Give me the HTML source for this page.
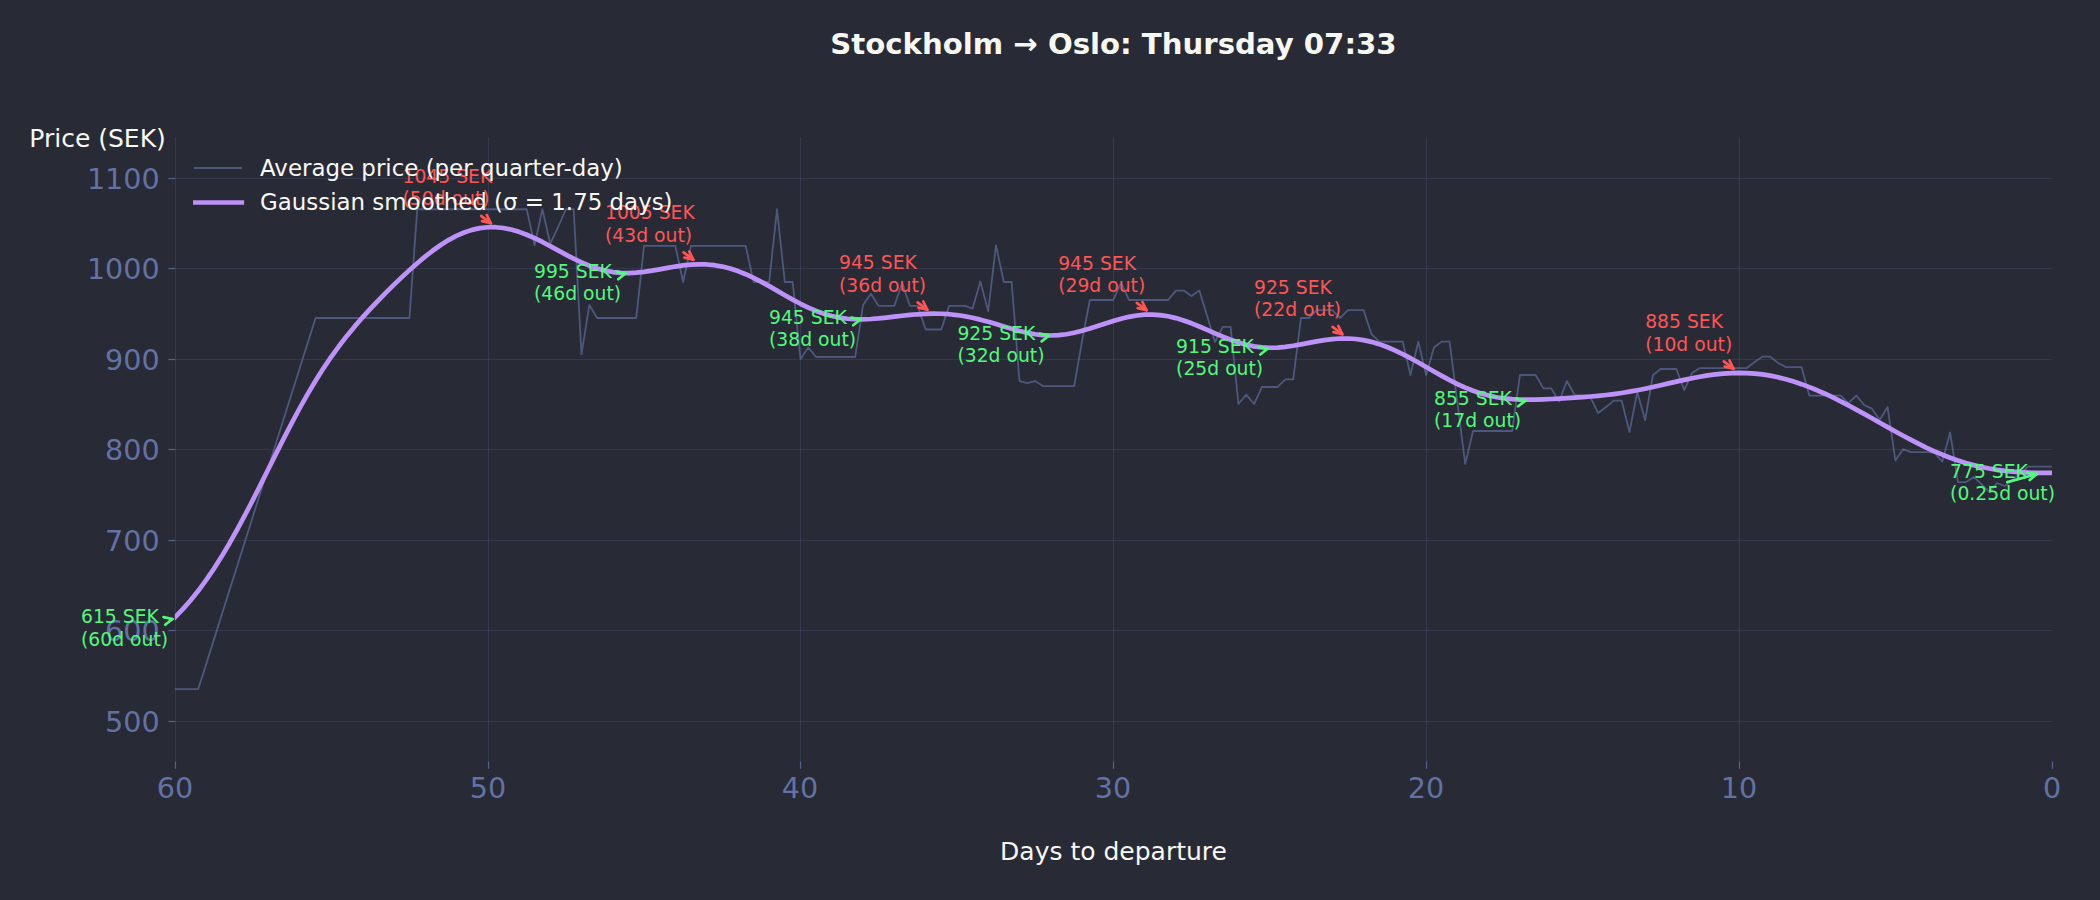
<!DOCTYPE html>
<html lang="en"><head><meta charset="utf-8"><title>Stockholm → Oslo: Thursday 07:33</title>
<style>html,body{margin:0;padding:0;background:#282a36;}body{width:2100px;height:900px;overflow:hidden;}svg{display:block;}</style>
</head><body>
<svg width="2100" height="900" viewBox="0 0 2100 900" font-family='"DejaVu Sans", "Liberation Sans", sans-serif'>
<rect width="2100" height="900" fill="#282a36"/>
<defs><clipPath id="ax"><rect x="174.8" y="137.0" width="1877.2" height="624.5"/></clipPath></defs>
<g stroke="#6272a4" stroke-width="1" stroke-opacity="0.21" fill="none">
<line x1="175.5" y1="137.0" x2="175.5" y2="761.5"/>
<line x1="488.5" y1="137.0" x2="488.5" y2="761.5"/>
<line x1="800.5" y1="137.0" x2="800.5" y2="761.5"/>
<line x1="1113.5" y1="137.0" x2="1113.5" y2="761.5"/>
<line x1="1426.5" y1="137.0" x2="1426.5" y2="761.5"/>
<line x1="1739.5" y1="137.0" x2="1739.5" y2="761.5"/>
<line x1="175" y1="178.5" x2="2052" y2="178.5"/>
<line x1="175" y1="268.5" x2="2052" y2="268.5"/>
<line x1="175" y1="359.5" x2="2052" y2="359.5"/>
<line x1="175" y1="449.5" x2="2052" y2="449.5"/>
<line x1="175" y1="540.5" x2="2052" y2="540.5"/>
<line x1="175" y1="630.5" x2="2052" y2="630.5"/>
<line x1="175" y1="721.5" x2="2052" y2="721.5"/>
</g>
<g stroke="#6272a4" stroke-width="1.2" stroke-opacity="0.8" fill="none">
<line x1="175.5" y1="761.5" x2="175.5" y2="768.8"/>
<line x1="488.5" y1="761.5" x2="488.5" y2="768.8"/>
<line x1="800.5" y1="761.5" x2="800.5" y2="768.8"/>
<line x1="1113.5" y1="761.5" x2="1113.5" y2="768.8"/>
<line x1="1426.5" y1="761.5" x2="1426.5" y2="768.8"/>
<line x1="1739.5" y1="761.5" x2="1739.5" y2="768.8"/>
<line x1="2052.5" y1="761.5" x2="2052.5" y2="768.8"/>
<line x1="168.4" y1="178.5" x2="175" y2="178.5"/>
<line x1="168.4" y1="268.5" x2="175" y2="268.5"/>
<line x1="168.4" y1="359.5" x2="175" y2="359.5"/>
<line x1="168.4" y1="449.5" x2="175" y2="449.5"/>
<line x1="168.4" y1="540.5" x2="175" y2="540.5"/>
<line x1="168.4" y1="630.5" x2="175" y2="630.5"/>
<line x1="168.4" y1="721.5" x2="175" y2="721.5"/>
</g>
<g fill="#6272a4" font-size="28.6">
<text x="159.7" y="188.64" text-anchor="end">1100</text>
<text x="159.7" y="278.64" text-anchor="end">1000</text>
<text x="159.7" y="369.64" text-anchor="end">900</text>
<text x="159.7" y="459.64" text-anchor="end">800</text>
<text x="159.7" y="550.64" text-anchor="end">700</text>
<text x="159.7" y="640.64" text-anchor="end">600</text>
<text x="159.7" y="731.64" text-anchor="end">500</text>
<text x="175.00" y="798.4" text-anchor="middle">60</text>
<text x="488.00" y="798.4" text-anchor="middle">50</text>
<text x="800.00" y="798.4" text-anchor="middle">40</text>
<text x="1113.00" y="798.4" text-anchor="middle">30</text>
<text x="1426.00" y="798.4" text-anchor="middle">20</text>
<text x="1739.00" y="798.4" text-anchor="middle">10</text>
<text x="2052.00" y="798.4" text-anchor="middle">0</text>
</g>
<g clip-path="url(#ax)"><polyline points="174.80,689.10 182.62,689.10 190.44,689.10 198.26,689.10 206.08,664.36 213.90,639.62 221.73,614.88 229.55,590.14 237.37,565.40 245.19,540.66 253.01,515.92 260.83,491.18 268.65,466.44 276.47,441.70 284.29,416.96 292.11,392.22 299.93,367.48 307.75,342.74 315.58,318.00 323.40,318.00 331.22,318.00 339.04,318.00 346.86,318.00 354.68,318.00 362.50,318.00 370.32,318.00 378.14,318.00 385.96,318.00 393.78,318.00 401.60,318.00 409.43,318.00 417.25,209.25 425.07,209.25 432.89,209.25 440.71,209.25 448.53,209.25 456.35,209.25 464.17,209.25 471.99,209.25 479.81,209.25 487.63,209.25 495.45,209.25 503.28,209.25 511.10,209.25 518.92,209.25 526.74,209.25 534.56,245.35 542.38,209.25 550.20,243.54 558.02,227.25 565.84,209.25 573.66,209.25 581.48,354.36 589.30,305.06 597.12,318.00 604.95,318.00 612.77,318.00 620.59,318.00 628.41,318.00 636.23,318.00 644.05,245.80 651.87,245.80 659.69,245.80 667.51,245.80 675.33,245.80 683.15,281.99 690.98,245.80 698.80,245.80 706.62,245.80 714.44,245.80 722.26,245.80 730.08,245.80 737.90,245.80 745.72,245.80 753.54,281.99 761.36,281.99 769.18,281.99 777.00,209.25 784.83,281.99 792.65,281.99 800.47,358.98 808.29,347.58 816.11,356.99 823.93,356.99 831.75,356.99 839.57,356.99 847.39,356.99 855.21,356.99 863.03,305.06 870.85,293.66 878.68,305.96 886.50,305.96 894.32,305.96 902.14,282.98 909.96,305.96 917.78,305.96 925.60,329.48 933.42,329.48 941.24,329.48 949.06,305.96 956.88,305.96 964.70,305.96 972.53,308.68 980.35,281.54 988.17,311.03 995.99,245.35 1003.81,281.99 1011.63,281.99 1019.45,381.05 1027.27,383.04 1035.09,381.05 1042.91,386.03 1050.73,386.03 1058.55,386.03 1066.38,386.03 1074.20,386.03 1082.02,341.25 1089.84,299.99 1097.66,299.99 1105.48,299.99 1113.30,299.99 1121.12,282.98 1128.94,299.99 1136.76,299.99 1144.58,299.99 1152.40,299.99 1160.23,299.99 1168.05,299.99 1175.87,290.58 1183.69,290.58 1191.51,296.01 1199.33,290.58 1207.15,315.91 1214.97,341.97 1222.79,326.95 1230.61,326.95 1238.43,404.03 1246.25,394.62 1254.08,404.03 1261.90,387.02 1269.72,387.02 1277.54,387.02 1285.36,379.42 1293.18,379.42 1301.00,318.00 1308.82,318.00 1316.64,310.03 1324.46,310.03 1332.28,310.03 1340.10,318.00 1347.93,310.03 1355.75,310.03 1363.57,310.03 1371.39,334.01 1379.21,341.61 1387.03,341.61 1394.85,341.61 1402.67,341.61 1410.49,374.99 1418.31,341.61 1426.13,374.99 1433.95,347.58 1441.78,341.61 1449.60,341.61 1457.42,402.77 1465.24,464.01 1473.06,430.99 1480.88,430.99 1488.70,430.99 1496.52,430.99 1504.34,430.99 1512.16,430.99 1519.98,374.99 1527.80,374.99 1535.63,374.99 1543.45,388.38 1551.27,388.38 1559.09,401.59 1566.91,381.05 1574.73,394.99 1582.55,395.53 1590.37,397.34 1598.19,412.99 1606.01,407.02 1613.83,400.59 1621.65,400.59 1629.48,431.99 1637.30,392.00 1645.12,420.14 1652.94,374.99 1660.76,369.02 1668.58,369.02 1676.40,369.02 1684.22,390.01 1692.04,373.00 1699.86,368.03 1707.68,368.03 1715.50,368.03 1723.33,368.03 1731.15,368.03 1738.97,368.03 1746.79,368.03 1754.61,362.05 1762.43,356.63 1770.25,356.63 1778.07,362.96 1785.89,367.03 1793.71,367.03 1801.53,367.03 1809.35,395.53 1817.18,395.53 1825.00,395.53 1832.82,395.53 1840.64,395.53 1848.46,403.04 1856.28,395.53 1864.10,405.03 1871.92,408.65 1879.74,419.95 1887.56,407.02 1895.38,460.49 1903.20,449.00 1911.03,452.16 1918.85,452.16 1926.67,452.16 1934.49,452.98 1942.31,461.57 1950.13,432.53 1957.95,482.20 1965.77,482.20 1973.59,476.95 1981.41,484.19 1989.23,491.97 1997.05,483.19 2004.88,486.00 2012.70,479.67 2020.52,472.97 2028.34,466.55 2036.16,466.55 2043.98,466.55 2051.80,466.55" fill="none" stroke="#6272a4" stroke-opacity="0.64" stroke-width="1.8" stroke-linejoin="round"/>
<polyline points="174.80,617.49 182.62,609.41 190.44,600.52 198.26,590.79 206.08,580.18 213.90,568.70 221.73,556.36 229.55,543.19 237.37,529.27 245.19,514.69 253.01,499.60 260.83,484.14 268.65,468.49 276.47,452.84 284.29,437.38 292.11,422.30 299.93,407.75 307.75,393.85 315.58,380.71 323.40,368.36 331.22,356.80 339.04,346.01 346.86,335.90 354.68,326.41 362.50,317.42 370.32,308.84 378.14,300.59 385.96,292.61 393.78,284.87 401.60,277.37 409.43,270.12 417.25,263.19 425.07,256.63 432.89,250.54 440.71,245.00 448.53,240.09 456.35,235.90 464.17,232.49 471.99,229.89 479.81,228.15 487.63,227.26 495.45,227.22 503.28,228.01 511.10,229.56 518.92,231.83 526.74,234.73 534.56,238.15 542.38,241.98 550.20,246.09 558.02,250.33 565.84,254.56 573.66,258.62 581.48,262.37 589.30,265.67 597.12,268.43 604.95,270.57 612.77,272.05 620.59,272.87 628.41,273.05 636.23,272.68 644.05,271.85 651.87,270.68 659.69,269.32 667.51,267.89 675.33,266.55 683.15,265.43 690.98,264.65 698.80,264.30 706.62,264.47 714.44,265.21 722.26,266.57 730.08,268.53 737.90,271.10 745.72,274.23 753.54,277.85 761.36,281.87 769.18,286.18 777.00,290.66 784.83,295.18 792.65,299.60 800.47,303.78 808.29,307.60 816.11,310.96 823.93,313.78 831.75,316.02 839.57,317.66 847.39,318.72 855.21,319.25 863.03,319.30 870.85,318.98 878.68,318.37 886.50,317.56 894.32,316.67 902.14,315.77 909.96,314.95 917.78,314.28 925.60,313.83 933.42,313.64 941.24,313.76 949.06,314.22 956.88,315.04 964.70,316.23 972.53,317.78 980.35,319.65 988.17,321.78 995.99,324.09 1003.81,326.47 1011.63,328.81 1019.45,330.97 1027.27,332.83 1035.09,334.26 1042.91,335.17 1050.73,335.48 1058.55,335.17 1066.38,334.25 1074.20,332.77 1082.02,330.82 1089.84,328.51 1097.66,325.99 1105.48,323.41 1113.30,320.92 1121.12,318.68 1128.94,316.83 1136.76,315.47 1144.58,314.69 1152.40,314.55 1160.23,315.08 1168.05,316.28 1175.87,318.10 1183.69,320.47 1191.51,323.32 1199.33,326.50 1207.15,329.90 1214.97,333.34 1222.79,336.69 1230.61,339.79 1238.43,342.50 1246.25,344.71 1254.08,346.35 1261.90,347.36 1269.72,347.74 1277.54,347.54 1285.36,346.82 1293.18,345.71 1301.00,344.33 1308.82,342.83 1316.64,341.36 1324.46,340.07 1332.28,339.08 1340.10,338.53 1347.93,338.48 1355.75,339.00 1363.57,340.11 1371.39,341.83 1379.21,344.14 1387.03,346.99 1394.85,350.34 1402.67,354.10 1410.49,358.19 1418.31,362.52 1426.13,366.99 1433.95,371.48 1441.78,375.89 1449.60,380.12 1457.42,384.07 1465.24,387.64 1473.06,390.79 1480.88,393.45 1488.70,395.60 1496.52,397.26 1504.34,398.45 1512.16,399.21 1519.98,399.61 1527.80,399.72 1535.63,399.61 1543.45,399.34 1551.27,398.98 1559.09,398.56 1566.91,398.10 1574.73,397.61 1582.55,397.08 1590.37,396.48 1598.19,395.80 1606.01,395.00 1613.83,394.06 1621.65,392.96 1629.48,391.69 1637.30,390.26 1645.12,388.68 1652.94,386.99 1660.76,385.21 1668.58,383.39 1676.40,381.59 1684.22,379.84 1692.04,378.20 1699.86,376.71 1707.68,375.41 1715.50,374.35 1723.33,373.56 1731.15,373.06 1738.97,372.88 1746.79,373.04 1754.61,373.56 1762.43,374.43 1770.25,375.67 1778.07,377.28 1785.89,379.23 1793.71,381.53 1801.53,384.15 1809.35,387.08 1817.18,390.28 1825.00,393.74 1832.82,397.43 1840.64,401.32 1848.46,405.38 1856.28,409.58 1864.10,413.89 1871.92,418.27 1879.74,422.68 1887.56,427.10 1895.38,431.47 1903.20,435.77 1911.03,439.94 1918.85,443.96 1926.67,447.78 1934.49,451.37 1942.31,454.71 1950.13,457.76 1957.95,460.53 1965.77,462.98 1973.59,465.13 1981.41,466.98 1989.23,468.53 1997.05,469.81 2004.88,470.83 2012.70,471.61 2020.52,472.19 2028.34,472.59 2036.16,472.83 2043.98,472.94 2051.80,472.95" fill="none" stroke="#bd93f9" stroke-width="4.7" stroke-linejoin="round" stroke-linecap="square"/></g>
<g fill="#ff5555" font-size="18.75"><text x="402.5" y="182.5">1045 SEK</text><text x="402.5" y="205.0">(50d out)</text></g>
<g stroke="#ff5555" stroke-width="2.7" fill="none" stroke-linecap="round" stroke-linejoin="round"><line x1="481.1" y1="215.9" x2="490.9" y2="223.3"/><polyline points="482.0,221.1 490.9,223.3 486.8,215.0"/></g>
<g fill="#ff5555" font-size="18.75"><text x="605" y="219">1005 SEK</text><text x="605" y="241.5">(43d out)</text></g>
<g stroke="#ff5555" stroke-width="2.7" fill="none" stroke-linecap="round" stroke-linejoin="round"><line x1="683.6" y1="252.4" x2="693.4" y2="259.8"/><polyline points="684.5,257.6 693.4,259.8 689.3,251.5"/></g>
<g fill="#ff5555" font-size="18.75"><text x="839" y="269">945 SEK</text><text x="839" y="291.5">(36d out)</text></g>
<g stroke="#ff5555" stroke-width="2.7" fill="none" stroke-linecap="round" stroke-linejoin="round"><line x1="917.6" y1="302.4" x2="927.4" y2="309.8"/><polyline points="918.5,307.6 927.4,309.8 923.3,301.5"/></g>
<g fill="#ff5555" font-size="18.75"><text x="1058.2" y="269.5">945 SEK</text><text x="1058.2" y="292.0">(29d out)</text></g>
<g stroke="#ff5555" stroke-width="2.7" fill="none" stroke-linecap="round" stroke-linejoin="round"><line x1="1136.8" y1="302.9" x2="1146.6" y2="310.3"/><polyline points="1137.7,308.1 1146.6,310.3 1142.5,302.0"/></g>
<g fill="#ff5555" font-size="18.75"><text x="1254" y="293.5">925 SEK</text><text x="1254" y="316.0">(22d out)</text></g>
<g stroke="#ff5555" stroke-width="2.7" fill="none" stroke-linecap="round" stroke-linejoin="round"><line x1="1332.6" y1="326.9" x2="1342.4" y2="334.3"/><polyline points="1333.5,332.1 1342.4,334.3 1338.3,326.0"/></g>
<g fill="#ff5555" font-size="18.75"><text x="1645.2" y="328">885 SEK</text><text x="1645.2" y="350.5">(10d out)</text></g>
<g stroke="#ff5555" stroke-width="2.7" fill="none" stroke-linecap="round" stroke-linejoin="round"><line x1="1723.8" y1="361.4" x2="1733.6" y2="368.8"/><polyline points="1724.7,366.6 1733.6,368.8 1729.5,360.5"/></g>
<g fill="#50fa7b" font-size="18.75"><text x="81" y="623">615 SEK</text><text x="81" y="645.5">(60d out)</text></g>
<g stroke="#50fa7b" stroke-width="2.7" fill="none" stroke-linecap="round" stroke-linejoin="round"><line x1="170.0" y1="619.6" x2="172.5" y2="619.0"/><polyline points="165.2,624.7 172.5,619.0 163.5,617.1"/></g>
<g fill="#50fa7b" font-size="18.75"><text x="534" y="277.5">995 SEK</text><text x="534" y="300.0">(46d out)</text></g>
<g stroke="#50fa7b" stroke-width="2.7" fill="none" stroke-linecap="round" stroke-linejoin="round"><line x1="623.0" y1="274.1" x2="625.5" y2="273.5"/><polyline points="618.2,279.2 625.5,273.5 616.5,271.6"/></g>
<g fill="#50fa7b" font-size="18.75"><text x="769" y="323.5">945 SEK</text><text x="769" y="346.0">(38d out)</text></g>
<g stroke="#50fa7b" stroke-width="2.7" fill="none" stroke-linecap="round" stroke-linejoin="round"><line x1="858.0" y1="320.1" x2="860.5" y2="319.5"/><polyline points="853.2,325.2 860.5,319.5 851.5,317.6"/></g>
<g fill="#50fa7b" font-size="18.75"><text x="957.4" y="339.75">925 SEK</text><text x="957.4" y="362.25">(32d out)</text></g>
<g stroke="#50fa7b" stroke-width="2.7" fill="none" stroke-linecap="round" stroke-linejoin="round"><line x1="1046.4" y1="336.3" x2="1048.9" y2="335.8"/><polyline points="1041.6,341.4 1048.9,335.8 1039.9,333.8"/></g>
<g fill="#50fa7b" font-size="18.75"><text x="1176.1" y="352.8">915 SEK</text><text x="1176.1" y="375.3">(25d out)</text></g>
<g stroke="#50fa7b" stroke-width="2.7" fill="none" stroke-linecap="round" stroke-linejoin="round"><line x1="1265.1" y1="349.4" x2="1267.6" y2="348.8"/><polyline points="1260.3,354.5 1267.6,348.8 1258.6,346.9"/></g>
<g fill="#50fa7b" font-size="18.75"><text x="1434" y="404.6">855 SEK</text><text x="1434" y="427.1">(17d out)</text></g>
<g stroke="#50fa7b" stroke-width="2.7" fill="none" stroke-linecap="round" stroke-linejoin="round"><line x1="1523.0" y1="401.2" x2="1525.5" y2="400.6"/><polyline points="1518.2,406.3 1525.5,400.6 1516.5,398.7"/></g>
<g fill="#50fa7b" font-size="18.75"><text x="1950.1" y="477.5">775 SEK</text><text x="1950.1" y="500.0">(0.25d out)</text></g>
<g stroke="#50fa7b" stroke-width="2.7" fill="none" stroke-linecap="round" stroke-linejoin="round"><line x1="2007.3" y1="482.1" x2="2036.7" y2="474.1"/><polyline points="2029.7,480.0 2036.7,474.1 2027.6,472.5"/></g>
<line x1="194" y1="168" x2="242" y2="168" stroke="#6272a4" stroke-opacity="0.64" stroke-width="1.8"/>
<line x1="193" y1="202.5" x2="244.1" y2="202.5" stroke="#bd93f9" stroke-width="4.7"/>
<g fill="#f8f8f2" font-size="22.92"><text x="260" y="176">Average price (per quarter-day)</text><text x="260" y="210.3">Gaussian smoothed (σ = 1.75 days)</text></g>
<text x="29.3" y="146.7" fill="#f8f8f2" font-size="25">Price (SEK)</text>
<text x="1113.5" y="860" fill="#f8f8f2" font-size="25" text-anchor="middle">Days to departure</text>
<text x="1113.5" y="54" fill="#f8f8f2" font-size="29.17" font-weight="bold" text-anchor="middle">Stockholm → Oslo: Thursday 07:33</text>
</svg>
</body></html>
